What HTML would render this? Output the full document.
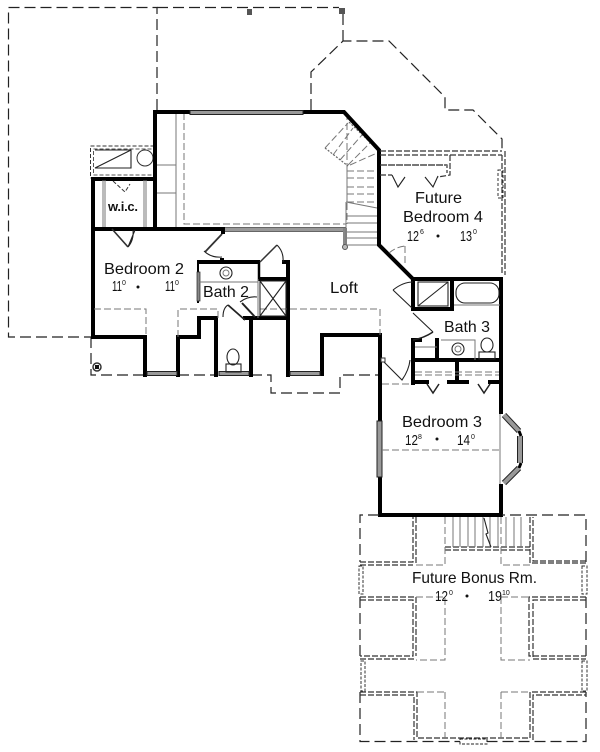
<!DOCTYPE html>
<html><head><meta charset="utf-8"><style>
html,body{margin:0;padding:0;background:#fff;width:600px;height:752px;overflow:hidden}
svg{display:block}
text{font-family:"Liberation Sans",sans-serif;fill:#111;font-size:16px}
.n{font-size:15px}
.u{font-size:7px}
.w{fill:none;stroke:#000;stroke-width:4;stroke-linejoin:miter;stroke-linecap:square}
.t{fill:none;stroke:#222;stroke-width:1.1}
.g{fill:none;stroke:#777;stroke-width:1}
.l{fill:none;stroke:#222;stroke-width:1.2;stroke-dasharray:11 5}
.s{fill:none;stroke:#333;stroke-width:1.2;stroke-dasharray:6 2}
.f{fill:none;stroke:#777;stroke-width:1;stroke-dasharray:7 3}
.win{fill:#999;stroke:#222;stroke-width:1}
</style></head><body>
<svg width="600" height="752" viewBox="0 0 600 752" xmlns="http://www.w3.org/2000/svg">
<!-- roof outlines -->
<path class="l" d="M157 110V7.500H8.500V337H92"/>
<path class="l" d="M157 7.500H339M343 14V41"/>
<path class="l" d="M311 110V72L343 41H389L445 97V110H473L502 139V151"/>
<rect x="247" y="9" width="5" height="6" fill="#555"/><rect x="339" y="8" width="6" height="6" fill="#555"/>
<path class="l" d="M91 337V375H145M178 375H216M251 375H271V393H340V375H378"/>
<circle cx="97" cy="367" r="4" fill="none" stroke="#333" stroke-width="1.500"/><rect x="95" y="365" width="4" height="4" fill="#111"/>
<!-- balcony/upper -->
<rect x="90.500" y="146" width="64" height="32" fill="none" stroke="#333" stroke-dasharray="4 2"/>
<rect x="93.500" y="149" width="61" height="26" fill="none" stroke="#555" stroke-dasharray="4 2"/>
<path class="t" d="M95 150H131V168H95L131 150"/><circle cx="145" cy="158" r="8" class="g" style="stroke:#333"/>
<!-- interior thin -->
<path class="g" d="M176 113V227M157 165H176M157 193H176"/>
<path class="f" d="M184 113V224H346"/>
<path class="f" d="M347 113V224"/>
<path d="M224 229.500H346" stroke="#999" stroke-width="4"/><path d="M224 227.500H346M224 231.500H346" stroke="#444" stroke-width=".7"/>
<path d="M345 228V247" stroke="#888" stroke-width="4"/><circle cx="345" cy="247" r="2.500" fill="#bbb" stroke="#555"/>
<!-- stairs -->
<path class="f" d="M325 148L348 123M333 155L353 128M340 160L362 135M348 165L370 143M350 165L377 153"/>
<path d="M325 148L348 166M349 122L378 150" stroke="#666" stroke-width="1.200" stroke-dasharray="2 1.500" fill="none"/>
<path class="f" d="M347 166V202M347 171H377M347 178H377M347 187H377M347 194H377M347 202H377"/>
<path class="g" d="M346 202L377 208M347 216H378M347 223H378M347 232H378M347 238H378M347 245H378M346 202V245"/>
<!-- walls -->
<path class="w" d="M223 229H93V337H145V375M178 375V337H199V318H216V375M251 375V318M245 318H288M288 264V375"/>
<path class="w" d="M93 229V179H155M155 229V112H190M303 112H344L379 150V245L413 279H501V515H380V335H322V374"/>
<path class="w" d="M199 262H258M284 262H288M260 279H288"/>
<path d="M198 262V303" stroke="#000" stroke-width="2"/>
<path d="M259 262V279" stroke="#000" stroke-width="2.500"/>
<path class="w" d="M413 279V309H452V279M413 340V383M413 360H501M437 340V360M413 340H420M413 382H427M449 382H467M490 382H501M457 360V382"/>
<rect x="499" y="414" width="6" height="70" fill="#fff"/>
<!-- windows -->
<rect x="190" y="110.500" width="113" height="4" class="win"/>
<rect x="147" y="371.500" width="30" height="4" class="win"/>
<rect x="219" y="371.500" width="30" height="4" class="win"/>
<rect x="290" y="371.500" width="30" height="4" class="win"/>
<rect x="377" y="421" width="5" height="56" class="win"/>
<path d="M504 415L519 431" stroke="#222" stroke-width="6"/><path d="M504 415L519 431" stroke="#999" stroke-width="4"/>
<path d="M520 436V463" stroke="#222" stroke-width="6"/><path d="M520 436V463" stroke="#999" stroke-width="4"/>
<path d="M519 468L504 483" stroke="#222" stroke-width="6"/><path d="M519 468L504 483" stroke="#999" stroke-width="4"/>
<path d="M519 431L521 436M521 463L519 468" stroke="#000" stroke-width="3"/>
<rect x="197" y="272" width="3" height="29" fill="#888" stroke="#222" stroke-width=".7"/>
<!-- dashed ceiling lines -->
<path class="f" d="M94 309H146V337M178 337V309H218V318"/>
<path class="f" d="M260 309H380V335"/>
<path class="f" d="M382 450H501M382 384H412"/>
<path class="g" d="M500 414V484"/>
<!-- doors -->
<path d="M112 229L128 247" stroke="#333" stroke-width="1.600"/><path class="t" d="M128 247Q134 240 133 230M128 247L135 230" style="stroke-dasharray:none"/>
<path d="M205 252L222 234" stroke="#333" stroke-width="1.800"/><path class="t" d="M204 251Q211 258 222 257"/>
<rect x="221" y="229" width="4" height="5" fill="#000"/><rect x="220" y="258" width="4" height="3" fill="#000"/>
<path d="M260 262L277 245" stroke="#333" stroke-width="1.500"/><path class="t" d="M277 245Q284 252 283 262"/>
<!-- bath2 -->
<circle cx="226" cy="273" r="6" class="t"/><circle cx="226" cy="273" r="3" class="g"/>
<path class="g" d="M199 282H258M258 279V318"/>
<path class="t" d="M260 281H286V316H260V281M260 281L286 316M286 281L260 316"/>
<path d="M228 305L245 320" stroke="#222" stroke-width="1.800"/><path d="M242 303L255 317" stroke="#222" stroke-width="2"/>
<path class="t" d="M223 317Q223 308 228 305M240 302Q248 296 257 297"/>
<ellipse cx="233" cy="357" rx="6" ry="8" class="t"/><rect x="226" y="364" width="15" height="8" class="t"/>
<!-- wic -->
<path class="g" d="M103 180V227M105 180V227M144 180V227M146 180V227"/>
<path d="M113 181L125 192L130 184" fill="none" stroke="#333" stroke-dasharray="4 2"/>
<!-- future bed 4 -->
<path class="s" d="M380 151H502M380 155H448M380 165H447V173M450 155H502M450 155V175L438 177M380 175H392"/>
<path class="s" d="M502 155V275M505 151V275"/>
<path class="s" d="M381 165H447" style="stroke-width:2;stroke:#777"/>
<path class="t" d="M392 175L398 187L405 177M425 177L433 187L438 176"/>
<rect x="498" y="170" width="5" height="28" fill="none" stroke="#333" stroke-dasharray="3 2"/>
<path class="f" d="M405 246V265M389 253Q396 247 405 246"/>
<!-- bath 3 -->
<rect x="418" y="282" width="30" height="24" class="t"/><path class="t" d="M418 306L448 282"/>
<rect x="456" y="283" width="43" height="20" rx="9" class="t"/>
<path class="g" d="M454 305H500M441 340H475V360M415 347H437"/>
<circle cx="458" cy="349" r="6" class="t"/><circle cx="458" cy="349" r="3" class="g"/>
<ellipse cx="487" cy="345" rx="6" ry="7" class="t"/><rect x="479" y="352" width="16" height="7" class="t"/>
<path class="t" d="M393 290Q403 282 413 282M393 290L412 308M413 313L433 332"/>
<path d="M413 340Q424 338 433 332" fill="none" stroke="#222" stroke-width="1.500"/>
<path d="M383 361L402 380Q409 370 410 360" class="t"/><rect x="381" y="358" width="4" height="4" fill="#fff" stroke="#333"/>
<!-- closets bed 3 -->
<path class="f" d="M415 372H499M415 375H499"/>
<path class="t" d="M427 384L433 393L439 384M478 384L484 393L490 384" style="stroke-width:1.500"/>
<!-- Bonus outer -->
<path class="l" d="M379 515H360V562M360 597V656M360 692V741.500H586V692M586 656V597M586 562V515H502"/>
<!-- Bonus double lines -->
<path class="s" d="M360 562H413V517M416 517V564M360 565H413"/>
<path class="s" d="M586 561H533V517M530 517V563H586"/>
<path class="s" d="M360 597H416V656M360 600H413V656H360M360 659H416"/>
<path class="s" d="M586 597H529V656H586M586 600H533V659H586"/>
<path class="s" d="M360 692H417V738H530V692H586M360 695H414V740M533 740V695H586"/>
<path class="s" d="M445 547H530M445 550H530"/>
<!-- Bonus thin -->
<path class="f" d="M416 565H445V517M501 517V565H530M416 597H445V660H416M501 597V660H530M501 597H530M445 692V738M417 692H445M501 692V738M501 692H530"/>
<path class="g" d="M453 517V547M460 517V547M468 517V547M475 517V547M483 517V547M490 517V547M498 517V547M506 517V547M514 517V547M521 517V547"/>
<path class="t" d="M484 518L488 533L486 534L491 547"/>
<rect x="359" y="566" width="4" height="28" fill="none" stroke="#333" stroke-dasharray="3 1.500"/>
<rect x="361" y="661" width="4" height="30" fill="none" stroke="#333" stroke-dasharray="3 1.500"/>
<rect x="582" y="566" width="5" height="28" fill="none" stroke="#333" stroke-dasharray="3 1.500"/>
<rect x="582" y="661" width="5" height="30" fill="none" stroke="#333" stroke-dasharray="3 1.500"/>
<rect x="460" y="739" width="27" height="5" fill="#fff" stroke="#222" stroke-dasharray="3 1.500"/>
<!-- labels -->
<text x="104" y="274" textLength="80" lengthAdjust="spacingAndGlyphs">Bedroom 2</text>
<text x="112" y="291" class="n" textLength="10" lengthAdjust="spacingAndGlyphs">11</text><text x="122" y="285" class="u">0</text>
<circle cx="138" cy="287" r="1.500" fill="#111"/>
<text x="165" y="291" class="n" textLength="10" lengthAdjust="spacingAndGlyphs">11</text><text x="175" y="285" class="u">0</text>
<text x="108" y="211" style="font-size:13px;font-weight:bold" textLength="30">w.i.c.</text>
<text x="203" y="297" textLength="46" lengthAdjust="spacingAndGlyphs">Bath 2</text>
<text x="330" y="293" textLength="28" lengthAdjust="spacingAndGlyphs">Loft</text>
<text x="415" y="203" textLength="47" lengthAdjust="spacingAndGlyphs">Future</text>
<text x="403" y="222" textLength="80" lengthAdjust="spacingAndGlyphs">Bedroom 4</text>
<text x="407" y="241" class="n" textLength="12" lengthAdjust="spacingAndGlyphs">12</text><text x="420" y="234" class="u">6</text>
<circle cx="438" cy="236" r="1.500" fill="#111"/>
<text x="460" y="241" class="n" textLength="12" lengthAdjust="spacingAndGlyphs">13</text><text x="473" y="234" class="u">0</text>
<text x="444" y="332" textLength="46" lengthAdjust="spacingAndGlyphs">Bath 3</text>
<text x="402" y="427" textLength="80" lengthAdjust="spacingAndGlyphs">Bedroom 3</text>
<text x="405" y="445" class="n" textLength="13" lengthAdjust="spacingAndGlyphs">12</text><text x="418" y="439" class="u">8</text>
<circle cx="437" cy="439" r="1.500" fill="#111"/>
<text x="457" y="445" class="n" textLength="13" lengthAdjust="spacingAndGlyphs">14</text><text x="471" y="439" class="u">0</text>
<text x="412" y="583" textLength="125" lengthAdjust="spacingAndGlyphs">Future Bonus Rm.</text>
<text x="435" y="601" class="n" textLength="13" lengthAdjust="spacingAndGlyphs">12</text><text x="449" y="595" class="u">0</text>
<circle cx="467" cy="596" r="1.500" fill="#111"/>
<text x="488" y="601" class="n" textLength="14" lengthAdjust="spacingAndGlyphs">19</text><text x="502" y="595" class="u">10</text>
</svg>
</body></html>
